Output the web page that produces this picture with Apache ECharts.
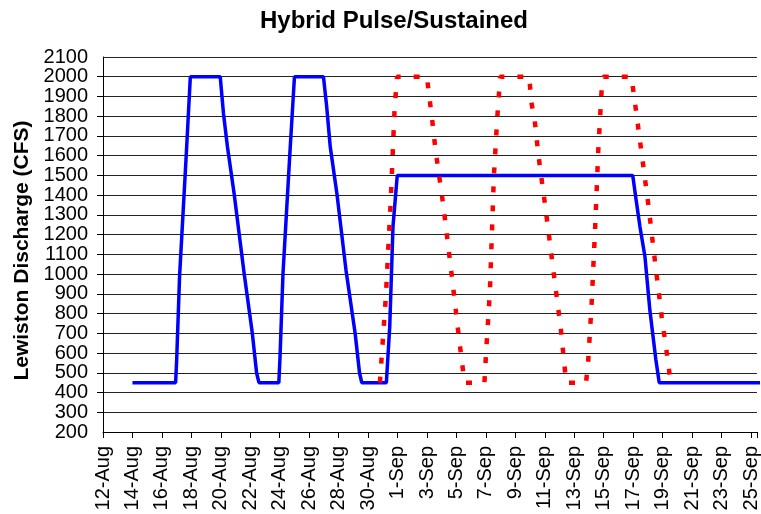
<!DOCTYPE html>
<html>
<head>
<meta charset="utf-8">
<script src="https://cdn.jsdelivr.net/npm/echarts@6/dist/echarts.min.js"></script>
<style>
  html, body { margin: 0; padding: 0; background: #fff; }
  #chart { width: 761px; height: 514px; }
</style>
</head>
<body>
<div id="chart"></div>
<script>
// x values are days after 12-Aug
const tickLabels = ['12-Aug', '14-Aug', '16-Aug', '18-Aug', '20-Aug', '22-Aug', '24-Aug', '26-Aug',
    '28-Aug', '30-Aug', '1-Sep', '3-Sep', '5-Sep', '7-Sep', '9-Sep', '11-Sep', '13-Sep', '15-Sep',
    '17-Sep', '19-Sep', '21-Sep', '23-Sep', '25-Sep'];

const sustainedDays = [2, 4.93, 5.0, 5.2, 5.65, 5.93, 7.96, 8.18, 8.45, 8.9, 9.58, 10.14, 10.43, 10.59,
    11.94, 12.02, 12.22, 12.68, 13.0, 14.97, 15.19, 15.43, 15.88, 16.5, 17.12, 17.42, 17.57,
    19.24, 19.47, 19.69, 19.98, 35.97, 36.2, 36.46, 36.8, 37.13, 37.54, 37.77, 45];
const sustainedFlow = [450, 450, 560, 990, 1600, 2000, 2000, 1814, 1645, 1410, 1006, 700, 499, 450,
    450, 580, 1000, 1600, 2000, 2000, 1847, 1645, 1409, 1020, 700, 499, 450,
    450, 734, 1240, 1500, 1500, 1375, 1240, 1088, 819, 566, 450, 450];

const pulseDays = [18.8, 19.2, 19.53, 19.8, 19.97, 22.0, 22.11, 22.29, 22.58, 23.12, 23.75, 24.2, 24.55,
    25.9, 26.03, 26.27, 26.54, 26.76, 26.97, 28.95, 29.06, 29.31, 29.58, 30.1, 30.59, 31.09, 31.45,
    32.8, 32.95, 33.18, 33.42, 33.63, 33.85, 33.97, 35.88, 35.99, 36.16, 36.5, 37.02, 37.47, 37.94, 38.3, 38.55];
const pulseFlow = [450, 880, 1360, 1840, 2000, 2000, 1923, 1822, 1628, 1341, 950, 658, 450,
    450, 625, 911, 1493, 1780, 2000, 2000, 1881, 1780, 1594, 1304, 1012, 721, 450,
    450, 566, 852, 1240, 1628, 1923, 2000, 2000, 1940, 1847, 1653, 1358, 1071, 782, 591, 450];

const pairs = (xs, ys) => xs.map((x, i) => [x, ys[i]]);

const font = '"Liberation Sans", Arial, sans-serif';
const yLabel = {
    margin: 15,
    fontFamily: font,
    fontSize: 20,
    color: '#000',
    hideOverlap: false,
    formatter: v => String(v)
};
const chart = echarts.init(document.getElementById('chart'));

chart.setOption({
    animation: false,
    title: {
        text: 'Hybrid Pulse/Sustained',
        left: 394,
        textAlign: 'center',
        top: 9,
        padding: 0,
        textStyle: {fontFamily: font, fontSize: 24, fontWeight: 'bold', color: '#000'}
    },
    grid: {left: 103, right: 0, top: 57, bottom: 82},
    xAxis: {
        type: 'value',
        min: 0,
        max: 44.4,
        interval: 2,
        splitLine: {show: false},
        axisLine: {lineStyle: {color: '#000', width: 1}},
        axisTick: {length: 6, lineStyle: {color: '#000'}},
        axisLabel: {
            rotate: 90,
            margin: 14,
            fontFamily: font,
            fontSize: 20,
            color: '#000',
            hideOverlap: false,
            formatter: v => (Number.isInteger(v) && v % 2 === 0) ? (tickLabels[v / 2] || '') : ''
        }
    },
    yAxis: [
        {
            type: 'value',
            min: 200,
            max: 2100,
            interval: 100,
            name: 'Lewiston Discharge (CFS)',
            nameLocation: 'middle',
            nameRotate: 90,
            nameGap: 64,
            nameTextStyle: {fontFamily: font, fontSize: 21, fontWeight: 'bold', color: '#000', padding: [0, 12, 0, 0]},
            axisLine: {show: true, lineStyle: {color: '#000', width: 1}},
            axisTick: {show: true, length: 6, lineStyle: {color: '#000'}},
            splitLine: {lineStyle: {color: '#222', width: 1}},
            axisLabel: Object.assign({showMinLabel: false, showMaxLabel: false}, yLabel)
        },
        {
            // end labels (200, 2100) only
            type: 'value',
            position: 'left',
            min: 200,
            max: 2100,
            interval: 1900,
            axisLine: {show: false},
            axisTick: {show: false},
            splitLine: {show: false},
            axisLabel: yLabel
        }
    ],
    series: [
        {
            name: 'Sustained',
            type: 'line',
            data: pairs(sustainedDays, sustainedFlow),
            symbol: 'none',
            lineStyle: {color: '#0000ff', width: 3.5}
        },
        {
            name: 'Pulse',
            type: 'line',
            data: pairs(pulseDays, pulseFlow),
            symbol: 'none',
            lineStyle: {color: '#ff0000', width: 4.5, type: [6, 13]}
        }
    ]
});
</script>
</body>
</html>
